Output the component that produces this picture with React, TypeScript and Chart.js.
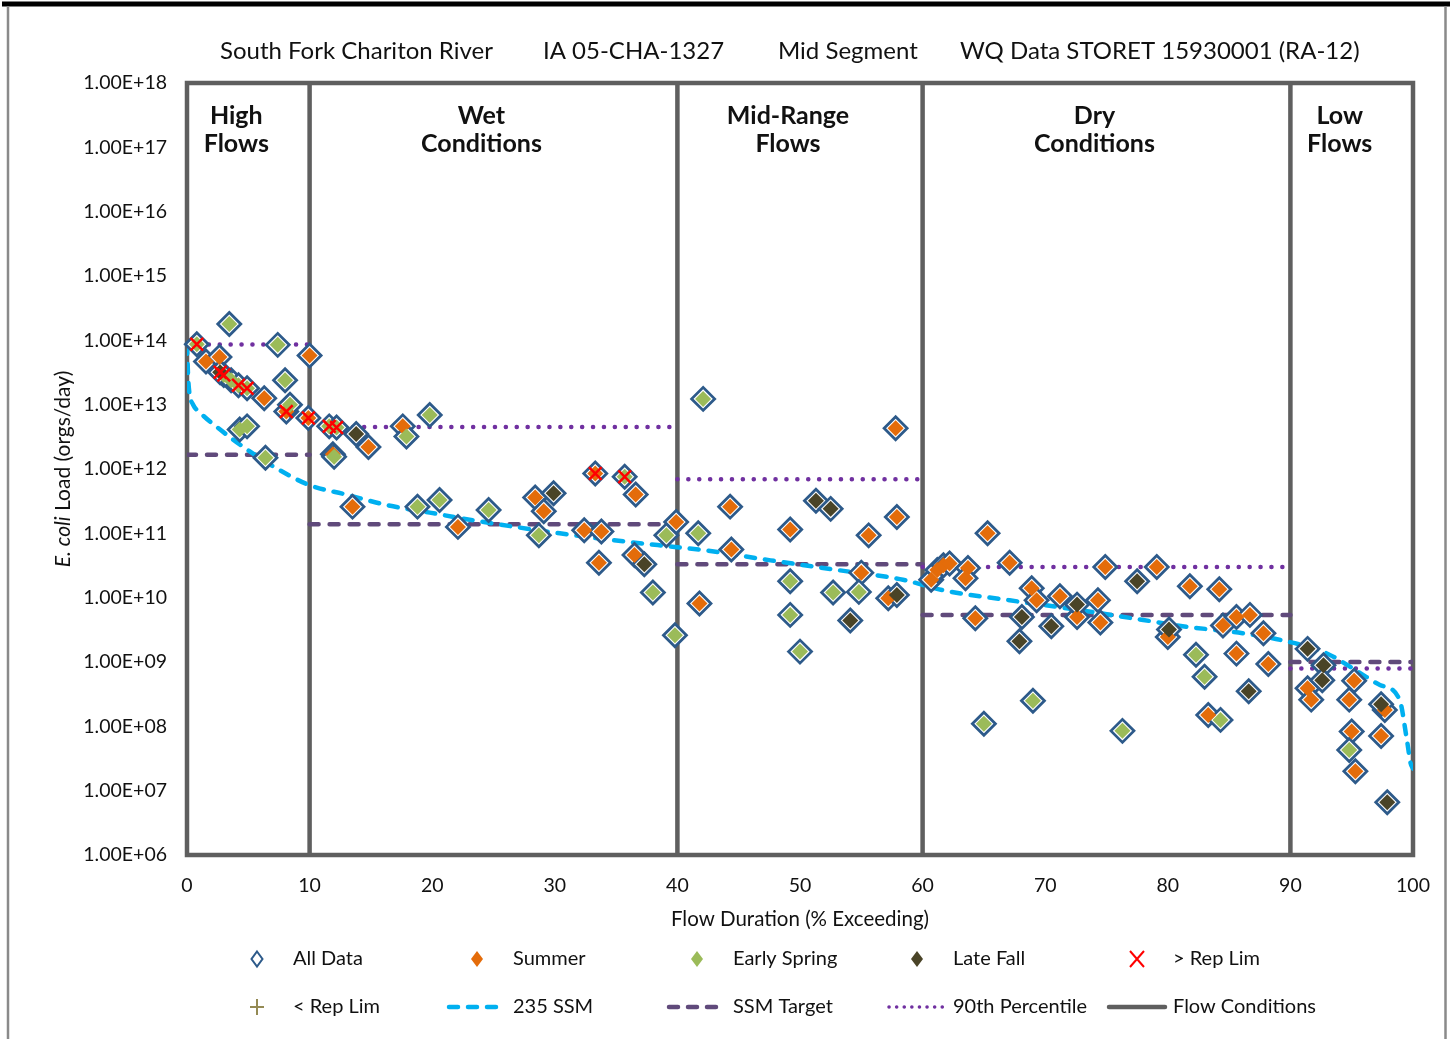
import React, { useEffect, useRef } from 'react';
import { Chart, registerables } from 'chart.js';

Chart.register(...registerables);

// ---------------- DATA ----------------
type Pt = [number, number];

const summer: Pt[] = [
  [1.55, 4.7e13], [2.65, 5.5e13], [6.3, 1.26e13], [8.1, 7.8e12], [10.0, 5.8e13], [9.9, 6.2e12],
  [14.8, 2.2e12], [11.9, 1.7e12], [17.6, 4.6e12], [13.5, 2.6e11], [22.1, 1.26e11], [28.4, 3.6e11],
  [29.1, 2.2e11], [33.3, 8.5e11], [36.6, 4.0e11], [32.4, 1.12e11], [33.8, 1.07e11], [33.6, 3.5e10],
  [36.5, 4.6e10], [39.9, 1.5e11], [41.8, 8.1e9], [44.3, 2.6e11], [44.4, 5.6e10], [49.2, 1.15e11],
  [55.6, 9.3e10], [57.9, 1.8e11], [57.8, 4.3e12], [55.0, 2.45e10], [57.2, 9.8e9], [60.7, 1.9e10],
  [61.2, 2.7e10], [61.7, 3.2e10], [62.2, 3.4e10], [63.7, 2.9e10], [63.5, 2.0e10], [65.3, 1.0e11],
  [67.1, 3.5e10], [64.3, 4.8e9], [68.9, 1.4e10], [69.3, 9.1e9], [71.2, 1.05e10], [72.6, 5.0e9],
  [74.3, 9.1e9], [74.5, 4.1e9], [74.9, 3.0e10], [79.1, 3.0e10], [80.0, 2.45e9], [81.8, 1.5e10],
  [84.2, 1.35e10], [84.5, 3.7e9], [85.6, 5.0e9], [86.7, 5.4e9], [87.8, 2.8e9], [85.6, 1.35e9],
  [88.2, 9.3e8], [83.3, 1.5e8], [91.4, 3.9e8], [91.7, 2.6e8], [95.2, 5.1e8], [94.8, 2.6e8],
  [97.7, 1.8e8], [95.0, 8.3e7], [97.4, 7.1e7], [95.3, 2.0e7],
];

const earlySpring: Pt[] = [
  [0.8, 8.7e13], [3.0, 2.9e13], [3.6, 2.4e13], [4.2, 2.0e13], [4.9, 1.8e13], [3.45, 1.8e14],
  [7.4, 8.5e13], [8.0, 2.4e13], [8.4, 1.0e13], [4.3, 4.1e12], [4.9, 4.6e12], [6.4, 1.5e12],
  [11.6, 4.6e12], [12.2, 4.4e12], [12.0, 1.55e12], [17.9, 3.2e12], [19.8, 6.9e12], [18.8, 2.6e11],
  [20.6, 3.3e11], [24.6, 2.3e11], [28.7, 9.3e10], [35.7, 7.6e11], [38.0, 1.2e10], [39.1, 9.3e10],
  [39.8, 2.6e9], [42.1, 1.23e13], [41.7, 1.0e11], [49.2, 1.8e10], [52.7, 1.2e10], [54.8, 1.23e10],
  [49.2, 5.4e9], [50.0, 1.45e9], [69.0, 2.5e8], [65.0, 1.1e8], [76.3, 8.5e7], [82.3, 1.3e9],
  [83.0, 5.9e8], [84.3, 1.26e8], [94.8, 4.3e7],
];

const lateFall: Pt[] = [
  [2.7, 3.2e13], [13.8, 3.5e12], [29.9, 4.2e11], [37.3, 3.3e10], [51.3, 3.2e11], [52.5, 2.4e11],
  [57.9, 1.1e10], [54.1, 4.4e9], [68.1, 5.0e9], [67.9, 2.1e9], [70.5, 3.6e9], [72.6, 7.8e9],
  [77.5, 1.8e10], [80.1, 3.2e9], [86.6, 3.5e8], [91.4, 1.6e9], [92.7, 8.9e8], [92.6, 5.2e8],
  [97.4, 2.2e8], [97.9, 6.6e6],
];

const aboveRepLim: Pt[] = [
  [0.8, 8.7e13], [2.7, 3.2e13], [3.0, 2.9e13], [4.2, 2.0e13], [4.9, 1.8e13], [8.1, 7.8e12],
  [9.9, 6.2e12], [11.6, 4.6e12], [12.2, 4.4e12], [33.3, 8.5e11], [35.7, 7.6e11],
];

const belowRepLim: Pt[] = [];

const ssm235: Pt[] = [
  [0, 8.5e13], [0.1, 2.5e13], [0.2, 1.5e13], [0.5, 1.0e13], [1.1, 7.4e12], [2.7, 4.1e12],
  [4.9, 2.0e12], [7.6, 9.5e11], [10, 5.6e11], [13, 4.0e11], [16.3, 2.75e11], [19.8, 2.1e11],
  [23.3, 1.6e11], [30.4, 1.0e11], [35.9, 7.4e10], [39.6, 6.2e10], [42.1, 5.5e10], [47.6, 3.8e10],
  [53, 2.7e10], [58.4, 1.9e10], [61.7, 1.3e10], [67.1, 9.1e9], [72.6, 6.5e9], [78, 4.5e9],
  [81.2, 3.6e9], [86.1, 2.8e9], [89.2, 2.2e9], [92.9, 1.38e9], [95.6, 6.9e8], [97.3, 4.4e8],
  [98.9, 2.6e8], [99.5, 6.2e7], [99.8, 2.7e7], [100, 2.2e7],
];

const zoneBounds = [0, 10, 40, 60, 90, 100];
const percentile90 = [8.6e13, 4.5e12, 6.9e11, 3.0e10, 7.9e8];
const ssmTarget = [1.66e12, 1.38e11, 3.3e10, 5.4e9, 1.0e9];
const flowBreaks = [10, 40, 60, 90];
const zoneNames = [['High', 'Flows'], ['Wet', 'Conditions'], ['Mid-Range', 'Flows'], ['Dry', 'Conditions'], ['Low', 'Flows']];

const xTicks = [0, 10, 20, 30, 40, 50, 60, 70, 80, 90, 100];
const yTicks = [1e6, 1e7, 1e8, 1e9, 1e10, 1e11, 1e12, 1e13, 1e14, 1e15, 1e16, 1e17, 1e18];

const titleParts = ['South Fork Chariton River', 'IA 05-CHA-1327', 'Mid Segment', 'WQ Data STORET 15930001 (RA-12)'];
const xTitle = 'Flow Duration (% Exceeding)';
const yTitleItalic = 'E. coli';
const yTitleRest = ' Load (orgs/day)';

// ---------------- STYLE ----------------
const ORANGE = '#E46C0A';
const GREEN = '#9BBB59';
const DARK = '#4A4427';
const OUTLINE = '#2D5A8A';
const CYAN = '#00B0F0';
const SSM_PURPLE = '#604A7B';
const P90_PURPLE = '#7030A0';
const FLOW_GRAY = '#5F5F5F';
const TAN = '#948A54';
const FONT = 'Lato';
const TEXT = '#111';

const toXY = (arr: Pt[]) => arr.map(([x, y]) => ({ x, y }));

function segments(values: number[]) {
  const out: { x: number; y: number | null }[] = [];
  values.forEach((v, i) => {
    out.push({ x: zoneBounds[i], y: v });
    out.push({ x: zoneBounds[i + 1], y: v });
    out.push({ x: zoneBounds[i + 1], y: null });
  });
  return out;
}

function flowLines() {
  const out: { x: number; y: number | null }[] = [];
  flowBreaks.forEach((b) => {
    out.push({ x: b, y: yTicks[0] });
    out.push({ x: b, y: yTicks[yTicks.length - 1] });
    out.push({ x: b, y: null });
  });
  return out;
}

function fmtExp(v: number) {
  const e = Math.floor(Math.log10(v) + 1e-9);
  const m = v / Math.pow(10, e);
  return m.toFixed(2) + 'E+' + String(e).padStart(2, '0');
}

function drawDiamond(ctx: CanvasRenderingContext2D, x: number, y: number, hw: number, hh: number) {
  ctx.beginPath();
  ctx.moveTo(x, y - hh);
  ctx.lineTo(x + hw, y);
  ctx.lineTo(x, y + hh);
  ctx.lineTo(x - hw, y);
  ctx.closePath();
}

const legendItems = [
  { label: 'All Data', kind: 'open' },
  { label: 'Summer', kind: 'fill', color: ORANGE },
  { label: 'Early Spring', kind: 'fill', color: GREEN },
  { label: 'Late Fall', kind: 'fill', color: DARK },
  { label: '> Rep Lim', kind: 'x' },
  { label: '< Rep Lim', kind: 'plus' },
  { label: '235 SSM', kind: 'line', color: CYAN, dash: [9, 10], width: 4.5 },
  { label: 'SSM Target', kind: 'line', color: SSM_PURPLE, dash: [9, 10], width: 4.5 },
  { label: '90th Percentile', kind: 'line', color: P90_PURPLE, dash: [0.1, 7.5], width: 3.5 },
  { label: 'Flow Conditions', kind: 'line', color: FLOW_GRAY, dash: [], width: 4.5 },
];

const decor = {
  id: 'decor',
  beforeDraw(chart: any) {
    const { ctx, width, height } = chart;
    ctx.save();
    ctx.fillStyle = '#fff';
    ctx.fillRect(0, 0, width, height);
    ctx.fillStyle = '#000';
    ctx.fillRect(2, 1.5, width - 2, 5);
    ctx.strokeStyle = '#8a8a8a';
    ctx.lineWidth = 2.5;
    ctx.beginPath();
    ctx.moveTo(8, 6);
    ctx.lineTo(8, height);
    ctx.moveTo(width - 4.5, 6);
    ctx.lineTo(width - 4.5, height);
    ctx.stroke();
    ctx.restore();
  },
  beforeDatasetsDraw(chart: any) {
    const { ctx, chartArea: a } = chart;
    ctx.save();
    ctx.strokeStyle = FLOW_GRAY;
    ctx.lineWidth = 4.5;
    ctx.strokeRect(a.left, a.top, a.right - a.left, a.bottom - a.top);
    ctx.restore();
  },
  afterDraw(chart: any) {
    const { ctx, chartArea: a } = chart;
    const xs = chart.scales.x;
    ctx.save();
    ctx.fillStyle = TEXT;
    // title
    ctx.font = `24px ${FONT}`;
    ctx.textBaseline = 'middle';
    ctx.textAlign = 'left';
    const titleX = [220, 543, 778, 960];
    titleParts.forEach((t, i) => ctx.fillText(t, titleX[i], 51));
    // x title
    ctx.font = `20.5px ${FONT}`;
    ctx.textAlign = 'center';
    ctx.fillText(xTitle, (a.left + a.right) / 2, 919);
    // y title
    ctx.save();
    ctx.translate(63, (a.top + a.bottom) / 2);
    ctx.rotate(-Math.PI / 2);
    ctx.textAlign = 'left';
    ctx.font = `italic 21px ${FONT}`;
    const w1 = ctx.measureText(yTitleItalic).width;
    ctx.font = `21px ${FONT}`;
    const w2 = ctx.measureText(yTitleRest).width;
    const start = -(w1 + w2) / 2;
    ctx.font = `italic 21px ${FONT}`;
    ctx.fillText(yTitleItalic, start, 0);
    ctx.font = `21px ${FONT}`;
    ctx.fillText(yTitleRest, start + w1, 0);
    ctx.restore();
    // zone labels
    ctx.font = `bold 25px ${FONT}`;
    ctx.textAlign = 'center';
    zoneNames.forEach((lines, i) => {
      const cx = xs.getPixelForValue((zoneBounds[i] + zoneBounds[i + 1]) / 2) - 12;
      lines.forEach((ln, j) => ctx.fillText(ln, cx, 116 + j * 28));
    });
    // legend
    const colX = [257, 477, 697, 917, 1137];
    const rowY = [959, 1007];
    legendItems.forEach((it: any, i) => {
      const cx = colX[i % 5];
      const cy = rowY[Math.floor(i / 5)];
      ctx.save();
      if (it.kind === 'open') {
        drawDiamond(ctx, cx, cy, 5.5, 7.5);
        ctx.strokeStyle = OUTLINE;
        ctx.lineWidth = 2;
        ctx.stroke();
      } else if (it.kind === 'fill') {
        drawDiamond(ctx, cx, cy, 6, 8);
        ctx.fillStyle = it.color;
        ctx.fill();
      } else if (it.kind === 'x') {
        ctx.strokeStyle = '#FF0000';
        ctx.lineWidth = 2;
        ctx.beginPath();
        ctx.moveTo(cx - 7, cy - 8);
        ctx.lineTo(cx + 7, cy + 8);
        ctx.moveTo(cx + 7, cy - 8);
        ctx.lineTo(cx - 7, cy + 8);
        ctx.stroke();
      } else if (it.kind === 'plus') {
        ctx.strokeStyle = TAN;
        ctx.lineWidth = 2;
        ctx.beginPath();
        ctx.moveTo(cx - 7, cy);
        ctx.lineTo(cx + 7, cy);
        ctx.moveTo(cx, cy - 8);
        ctx.lineTo(cx, cy + 8);
        ctx.stroke();
      } else {
        ctx.strokeStyle = it.color;
        ctx.lineWidth = it.width;
        ctx.lineCap = 'round';
        ctx.setLineDash(it.dash);
        ctx.beginPath();
        ctx.moveTo(cx - 28, cy);
        ctx.lineTo(cx + 28, cy);
        ctx.stroke();
      }
      ctx.restore();
      ctx.font = `20px ${FONT}`;
      ctx.textAlign = 'left';
      ctx.textBaseline = 'middle';
      ctx.fillStyle = TEXT;
      ctx.fillText(it.label, cx + 36, cy);
    });
    ctx.restore();
  },
};

export default function App() {
  const ref = useRef<HTMLCanvasElement | null>(null);
  useEffect(() => {
    if (!ref.current) return;
    const allData = [...summer, ...earlySpring, ...lateFall];
    const chart = new Chart(ref.current, {
      type: 'scatter',
      data: {
        datasets: [
          {
            label: '> Rep Lim', data: toXY(aboveRepLim), order: 0, pointStyle: 'crossRot',
            pointRadius: 9, borderColor: '#FF0000', backgroundColor: '#FF0000', pointBorderWidth: 2.5, clip: false,
          } as any,
          {
            label: '< Rep Lim', data: toXY(belowRepLim), order: 0, pointStyle: 'cross',
            pointRadius: 8, borderColor: TAN, pointBorderWidth: 2, clip: false,
          },
          {
            label: 'Late Fall', data: toXY(lateFall), order: 1, pointStyle: 'rectRot',
            pointRadius: 8, backgroundColor: DARK, borderWidth: 0, pointBorderWidth: 0, clip: false,
          },
          {
            label: 'Early Spring', data: toXY(earlySpring), order: 2, pointStyle: 'rectRot',
            pointRadius: 8, backgroundColor: GREEN, borderWidth: 0, pointBorderWidth: 0, clip: false,
          },
          {
            label: 'Summer', data: toXY(summer), order: 3, pointStyle: 'rectRot',
            pointRadius: 8, backgroundColor: ORANGE, borderWidth: 0, pointBorderWidth: 0, clip: false,
          },
          {
            label: 'All Data', data: toXY(allData), order: 5, pointStyle: 'rectRot',
            pointRadius: 11.5, backgroundColor: '#ffffff', borderColor: OUTLINE, pointBorderWidth: 2.8, clip: false,
          },
          {
            label: '235 SSM', data: toXY(ssm235), order: 6, showLine: true, pointRadius: 0,
            borderColor: CYAN, borderWidth: 4.5, borderDash: [9, 10], borderCapStyle: 'round',
            cubicInterpolationMode: 'monotone',
          },
          {
            label: '90th Percentile', data: segments(percentile90), order: 7, showLine: true, pointRadius: 0,
            borderColor: P90_PURPLE, borderWidth: 4.5, borderDash: [0.1, 10.8], borderCapStyle: 'round', spanGaps: false,
          },
          {
            label: 'SSM Target', data: segments(ssmTarget), order: 8, showLine: true, pointRadius: 0,
            borderColor: SSM_PURPLE, borderWidth: 4.5, borderDash: [9, 11], borderCapStyle: 'round', spanGaps: false,
          },
          {
            label: 'Flow Conditions', data: flowLines(), order: 9, showLine: true, pointRadius: 0,
            borderColor: FLOW_GRAY, borderWidth: 4.5, spanGaps: false,
          },
        ],
      },
      options: {
        responsive: false,
        animation: false,
        events: [],
        layout: { padding: { top: 83, right: 37, bottom: 104, left: 0 } },
        plugins: { legend: { display: false }, tooltip: { enabled: false }, title: { display: false } },
        scales: {
          x: {
            type: 'linear', min: 0, max: 100,
            grid: { display: false, drawTicks: false },
            border: { display: false },
            afterBuildTicks: (s: any) => { s.ticks = xTicks.map((value) => ({ value })); },
            afterFit: (s: any) => { s.height = 80; },
            ticks: { padding: 19, color: TEXT, font: { family: FONT, size: 19.5 }, maxRotation: 0, autoSkip: false },
          },
          y: {
            type: 'logarithmic', min: yTicks[0], max: yTicks[yTicks.length - 1],
            grid: { display: false, drawTicks: false },
            border: { display: false },
            afterBuildTicks: (s: any) => { s.ticks = yTicks.map((value) => ({ value })); },
            afterFit: (s: any) => { s.width = 187; },
            ticks: {
              padding: 20, color: TEXT, font: { family: FONT, size: 19.5 }, autoSkip: false,
              callback: (v: any) => fmtExp(Number(v)),
            },
          },
        },
      } as any,
      plugins: [decor],
    });
    return () => chart.destroy();
  }, []);
  return (
    <div style={{ position: 'absolute', left: 0, top: 0, width: 1450, height: 1039 }}>
      <canvas ref={ref} width={1450} height={1039} />
    </div>
  );
}
